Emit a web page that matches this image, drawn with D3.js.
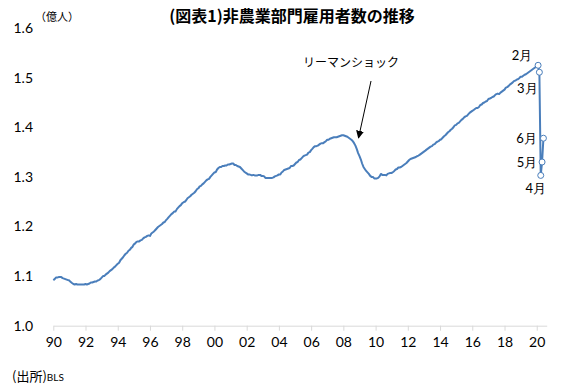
<!DOCTYPE html>
<html><head><meta charset="utf-8">
<script src="https://cdn.jsdelivr.net/npm/d3@7"></script>
<style>
html,body{margin:0;padding:0;background:#fff;}
svg{display:block;}
</style></head>
<body>
<svg id="chart" width="561" height="390"></svg>
<script>
// Nonfarm payroll employment, monthly, millions, Jan 1990 – Jun 2020
const startYear = 1990;
const payrolls = [
// 1990
109.2,109.4,109.7,109.7,109.8,109.8,109.8,109.6,109.5,109.4,109.3,109.2,
// 1991
109.1,108.8,108.6,108.4,108.3,108.4,108.3,108.3,108.3,108.3,108.3,108.3,
// 1992
108.4,108.3,108.4,108.5,108.7,108.7,108.8,108.9,108.9,109.1,109.2,109.4,
// 1993
109.7,110.0,110.0,110.3,110.5,110.7,111.0,111.2,111.4,111.7,111.9,112.2,
// 1994
112.5,112.7,113.2,113.5,113.8,114.2,114.5,114.7,115.1,115.3,115.7,115.9,
// 1995
116.4,116.6,116.9,117.0,117.0,117.2,117.3,117.6,117.8,117.9,118.1,118.2,
// 1996
118.1,118.6,118.8,119.0,119.3,119.6,119.9,120.1,120.3,120.5,120.8,120.9,
// 1997
121.3,121.6,121.9,122.2,122.5,122.7,123.0,123.0,123.5,123.8,124.1,124.3,
// 1998
124.7,124.9,125.0,125.3,125.7,125.9,126.1,126.4,126.6,126.8,127.1,127.5,
// 1999
127.7,128.1,128.2,128.5,128.7,129.0,129.3,129.5,129.6,130.0,130.3,130.6,
// 2000
130.9,131.0,131.5,131.8,132.0,132.0,132.2,132.2,132.3,132.3,132.5,132.5,
// 2001
132.6,132.7,132.7,132.4,132.4,132.2,132.1,132.0,131.7,131.4,131.1,130.9,
// 2002
130.7,130.5,130.5,130.4,130.3,130.4,130.3,130.3,130.3,130.4,130.4,130.2,
// 2003
130.2,130.1,129.8,129.8,129.8,129.8,129.8,129.8,129.9,130.1,130.2,130.3,
// 2004
130.5,130.5,130.9,131.1,131.4,131.5,131.6,131.7,131.8,132.2,132.2,132.3,
// 2005
132.6,132.9,133.0,133.4,133.5,133.8,134.1,134.3,134.4,134.5,134.9,135.0,
// 2006
135.4,135.7,136.0,136.2,136.2,136.3,136.5,136.7,136.8,136.8,137.0,137.2,
// 2007
137.5,137.5,137.7,137.8,137.9,138.0,138.0,138.0,138.1,138.2,138.3,138.4,
// 2008
138.4,138.3,138.2,138.1,137.9,137.7,137.5,137.2,136.8,136.3,135.6,134.8,
// 2009
134.2,133.5,132.7,132.0,131.6,131.2,130.9,130.6,130.2,130.0,130.0,129.7,
// 2010
129.7,129.7,129.8,130.1,130.6,130.4,130.4,130.4,130.3,130.6,130.7,130.8,
// 2011
130.8,131.0,131.2,131.5,131.6,131.9,131.9,132.0,132.2,132.4,132.6,132.8,
// 2012
133.1,133.4,133.6,133.7,133.8,133.9,134.0,134.2,134.3,134.5,134.7,134.9,
// 2013
135.1,135.3,135.5,135.7,135.9,136.1,136.2,136.5,136.6,136.9,137.1,137.2,
// 2014
137.5,137.6,137.9,138.2,138.4,138.7,139.0,139.2,139.5,139.7,140.0,140.4,
// 2015
140.5,140.8,140.9,141.2,141.5,141.7,142.0,142.2,142.3,142.6,142.9,143.1,
// 2016
143.3,143.5,143.7,143.9,143.9,144.1,144.5,144.6,144.9,145.0,145.2,145.3,
// 2017
145.7,145.8,145.9,146.1,146.2,146.5,146.7,146.8,146.7,147.0,147.2,147.4,
// 2018
147.6,148.0,148.1,148.3,148.6,148.8,149.0,149.3,149.4,149.6,149.7,149.9,
// 2019
150.2,150.2,150.4,150.6,150.7,150.9,151.1,151.3,151.5,151.7,151.9,152.1,
// 2020
152.2,152.5,151.1,130.3,133.0,137.8
];

// 2020 monthly markers (month index in 2020, 0-based) and labels
const markerMonths = [1, 2, 3, 4, 5];
const markerLabels = ["2月", "3月", "4月", "5月", "6月"];

const yTicks = [1.0, 1.1, 1.2, 1.3, 1.4, 1.5, 1.6];
const xTickYears = [1990,1992,1994,1996,1998,2000,2002,2004,2006,2008,2010,2012,2014,2016,2018,2020];

const titleText = "(図表1)非農業部門雇用者数の推移";
const unitText = "（億人）";
const sourceText = "(出所)";
const sourceName = "BLS";
const annotationText = "リーマンショック";

const data = payrolls.map((v, i) => ({
  date: new Date(startYear + Math.floor(i / 12), i % 12, 1),
  value: v / 100
}));

const svg = d3.select("#chart");
const numFont = "Lato, 'Noto Sans', sans-serif";
const jpFont = "'Noto Sans CJK JP', sans-serif";

const x = d3.scaleTime()
  .domain([new Date(1990, 0, 1), new Date(2020, 7, 14)])
  .range([53.3, 546.7]);
const y = d3.scaleLinear().domain([1.0, 1.6]).range([325.7, 28.1]);

// x axis
const xAxis = d3.axisBottom(x)
  .tickValues(xTickYears.map(yr => new Date(yr, 0, 1)))
  .tickFormat(d3.timeFormat("%y"))
  .tickSizeOuter(0)
  .tickSizeInner(5)
  .tickPadding(6);
const gx = svg.append("g").attr("transform", `translate(0,${y(1.0)})`).call(xAxis);
gx.select(".domain").attr("stroke", "#d9d9d9").attr("stroke-width", 1);
gx.selectAll(".tick line").attr("stroke", "#d9d9d9");
gx.selectAll(".tick text").attr("fill", "#000").style("font-family", numFont).style("font-size", "14px");

// y labels
svg.append("g").selectAll("text").data(yTicks).join("text")
  .attr("x", 33).attr("y", d => y(d)).attr("dy", "0.35em")
  .attr("text-anchor", "end")
  .style("font-family", numFont).style("font-size", "14px")
  .text(d => d3.format(".1f")(d));

// line
const line = d3.line().x(d => x(d.date)).y(d => y(d.value));
svg.append("path").datum(data)
  .attr("fill", "none").attr("stroke", "#4a7ebb").attr("stroke-width", 2)
  .attr("stroke-linejoin", "round")
  .attr("d", line);

// markers 2020
const markers = markerMonths.map((m, i) => ({ d: data[(2020 - startYear) * 12 + m], label: markerLabels[i] }));
svg.append("g").selectAll("circle").data(markers).join("circle")
  .attr("cx", k => x(k.d.date)).attr("cy", k => y(k.d.value)).attr("r", 3)
  .attr("fill", "#fff").attr("stroke", "#4a7ebb").attr("stroke-width", 1);

const labelOffsets = { "2月": [-16, -10], "3月": [-12, 16], "4月": [-5, 13], "5月": [-15, 0], "6月": [-17, 0] };
svg.append("g").selectAll("text").data(markers).join("text")
  .attr("x", k => x(k.d.date) + labelOffsets[k.label][0])
  .attr("y", k => y(k.d.value) + labelOffsets[k.label][1])
  .attr("dy", "0.35em").attr("text-anchor", "middle")
  .style("font-family", numFont).style("font-size", "13px")
  .text(k => k.label);

// title
svg.append("text").attr("x", 292).attr("y", 22).attr("text-anchor", "middle")
  .style("font-family", jpFont).style("font-size", "16px").style("font-weight", "bold")
  .text(titleText);

// unit
svg.append("text").attr("x", 35).attr("y", 21)
  .style("font-family", jpFont).style("font-size", "11px")
  .text(unitText);

// annotation
svg.append("text").attr("x", 351).attr("y", 63).attr("dy", "0.35em").attr("text-anchor", "middle")
  .style("font-family", jpFont).style("font-size", "12px")
  .text(annotationText);
const defs = svg.append("defs");
defs.append("marker").attr("id", "arr").attr("viewBox", "0 0 10 10")
  .attr("refX", 9).attr("refY", 5).attr("markerWidth", 8).attr("markerHeight", 8)
  .attr("markerUnits", "userSpaceOnUse").attr("orient", "auto")
  .append("path").attr("d", "M0,0L10,5L0,10z").attr("fill", "#000");
svg.append("line").attr("x1", 371).attr("y1", 81).attr("x2", 358.5).attr("y2", 138)
  .attr("stroke", "#000").attr("stroke-width", 1).attr("marker-end", "url(#arr)");

// source
const src = svg.append("text").attr("x", 12).attr("y", 381);
src.append("tspan").style("font-family", jpFont).style("font-size", "13px").text(sourceText);
src.append("tspan").style("font-family", numFont).style("font-size", "10px").text(sourceName);
</script>
</body></html>
